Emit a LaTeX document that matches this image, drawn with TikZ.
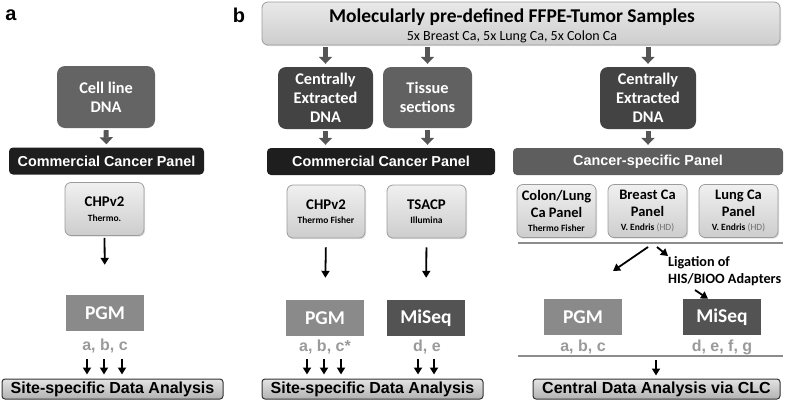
\documentclass[tikz,border=0pt]{standalone}
\usepackage{fontspec}
\setmainfont{Carlito}
\newfontfamily\arialf{Liberation Sans}
\usetikzlibrary{arrows.meta,shadows,calc}
\definecolor{dkbox}{HTML}{434343}
\definecolor{mdbox}{HTML}{616161}
\definecolor{cellbox}{HTML}{646464}
\definecolor{blackbar}{HTML}{1E1E1E}
\definecolor{specbar}{HTML}{5E5E5E}
\definecolor{pgmcol}{HTML}{8A8A8A}
\definecolor{miseqcol}{HTML}{535353}
\definecolor{lblgray}{HTML}{9A9A9A}
\definecolor{boxtop}{HTML}{F0F0F0}
\definecolor{boxbot}{HTML}{CDCDCD}
\definecolor{boxedge}{HTML}{9C9C9C}
\definecolor{arrgray}{HTML}{555555}
\definecolor{sepline}{HTML}{8C8C8C}
\definecolor{hdgray}{HTML}{707070}
\newcommand{\fsz}[2]{\fontsize{#1}{#2}\selectfont}
\begin{document}
\begin{tikzpicture}[x=1pt,y=-1pt,
  darkbox/.style={rounded corners=8pt, fill=#1, text=white, inner sep=0pt, align=center,
    font=\bfseries\fsz{16.3}{19}},
  lightbox/.style={rounded corners=6pt, top color=boxtop, bottom color=boxbot, draw=boxedge,
    line width=0.8pt, drop shadow={shadow xshift=1pt, shadow yshift=-1.2pt, opacity=0.25},
    inner sep=0pt, align=center, minimum width=79pt, minimum height=53pt, font=\bfseries\fsz{14.8}{16.5}},
  panelbar/.style={rounded corners=4pt, fill=#1, text=white, inner sep=0pt,
    font=\arialf\bfseries\fsz{14.4}{16}, minimum height=27pt},
  analysisbar/.style={rounded corners=3pt, top color=gray!22, bottom color=gray!60, draw=black!80,
    line width=1pt, inner sep=0pt, minimum height=20pt, font=\arialf\bfseries\fsz{16}{18}},
  seqbox/.style={fill=#1, text=white, inner sep=0pt, minimum width=78pt, minimum height=36pt,
    font=\bfseries\fsz{19.5}{22}},
  readlbl/.style={text=lblgray, inner sep=0pt, font=\arialf\bfseries\fsz{16}{18}},
  blockarr/.style={draw=arrgray, line width=5pt, -{Triangle[length=7pt,width=13pt]},
    shorten <=2pt, shorten >=3pt},
  thinarr/.style={draw=black, line width=1.8pt, -{Triangle[length=7pt,width=8pt]}},
  sep/.style={draw=sepline, line width=1.5pt},
  panellbl/.style={inner sep=0pt, font=\arialf\bfseries\fsz{20}{22}}
]
\useasboundingbox (0,0) rectangle (787,400);

% panel labels
\node[panellbl] (la) at (11,15) {a};
\node[panellbl] (lb) at (239,15) {b};

% ---------------- panel a ----------------
\node[darkbox=cellbox, minimum width=98pt, minimum height=62pt] (cellDNA) at (106,97) {Cell line\\DNA};
\node[panelbar=blackbar, minimum width=195pt] (comA) at (106.5,161) {Commercial Cancer Panel};
\node[lightbox] (chpA) at (104.5,209) {CHPv2\\[-2pt]{\fsz{9.5}{11}Thermo.}};
\node[seqbox=pgmcol] (pgmA) at (105,313) {PGM};
\node[readlbl] (lblA) at (105,346) {a, b, c};
\node[analysisbar, minimum width=221pt] (siteA) at (112.5,389) {Site-specific Data Analysis};

\draw[blockarr] (cellDNA.south) -- (comA.north);
\draw[thinarr, shorten <=2pt, shorten >=30pt] (chpA.south) -- (pgmA.north);
\coordinate (a1) at (87,359);
\coordinate (a2) at (104,359);
\coordinate (a3) at (122,359);
\foreach \c in {a1,a2,a3}
  \draw[thinarr, shorten >=4pt] (\c) -- (\c |- siteA.north);

% ---------------- panel b ----------------
\node[rounded corners=6pt, top color=boxtop!80!boxbot, bottom color=boxbot, draw=boxedge, line width=0.8pt,
  drop shadow={shadow xshift=1pt, shadow yshift=-1.2pt, opacity=0.25},
  minimum width=518pt, minimum height=43pt, inner sep=0pt] (top) at (521,23.5) {};
\node[inner sep=0pt, font=\bfseries\fsz{19.5}{22}] (title) at (512,17) {Molecularly pre-defined FFPE-Tumor Samples};
\node[inner sep=0pt, font=\fsz{14}{16}] (subtitle) at (512,37) {5x Breast Ca, 5x Lung Ca, 5x Colon Ca};

\node[darkbox=dkbox, minimum width=95pt, minimum height=62pt] (dna1) at (325.5,98) {Centrally\\Extracted\\DNA};
\node[darkbox=mdbox, minimum width=89pt, minimum height=61pt] (tissue) at (427.5,97.5) {Tissue\\sections};
\node[panelbar=blackbar, minimum width=228pt] (comB) at (381,161.5) {Commercial Cancer Panel};
\node[lightbox, minimum width=78pt] (chpB) at (326,211.5) {CHPv2\\[-2pt]{\fsz{9.5}{11}Thermo Fisher}};
\node[lightbox] (tsacp) at (426.5,211.5) {TSACP\\[-2pt]{\fsz{9.5}{11}Illumina}};
\node[seqbox=pgmcol] (pgmB) at (325,318) {PGM};
\node[seqbox=miseqcol] (miseqB) at (426,318) {MiSeq};
\node[readlbl] (lblB1) at (325,347) {a, b, c*};
\node[readlbl] (lblB2) at (427,347) {d, e};
\node[analysisbar, minimum width=221pt] (siteB) at (372.5,389) {Site-specific Data Analysis};

\draw[blockarr] (top.south -| dna1) -- (dna1.north);
\draw[blockarr] (top.south -| tissue) -- (tissue.north);
\draw[blockarr] (dna1.south) -- (dna1.south |- comB.north);
\draw[blockarr] (tissue.south) -- (tissue.south |- comB.north);
\draw[thinarr, shorten <=9pt, shorten >=22pt] (chpB.south) -- (pgmB.north);
\draw[thinarr, shorten <=9pt, shorten >=22pt] (tsacp.south) -- (miseqB.north);
\coordinate (b1) at (307,359);
\coordinate (b2) at (324,359);
\coordinate (b3) at (341,359);
\coordinate (b4) at (418,359);
\coordinate (b5) at (434,359);
\foreach \c in {b1,b2,b3,b4,b5}
  \draw[thinarr, shorten >=4pt] (\c) -- (\c |- siteB.north);

% right part
\node[darkbox=dkbox, minimum width=96pt, minimum height=62pt] (dna3) at (648,98) {Centrally\\Extracted\\DNA};
\node[panelbar=specbar, minimum width=270pt] (cspec) at (648,161.5) {Cancer-specific Panel};
\node[lightbox, font=\bfseries\fsz{14.5}{16.5}] (colon) at (556.5,211) {Colon/Lung\\Ca Panel\\[-2pt]{\fsz{9.5}{11}Thermo Fisher}};
\node[lightbox, font=\bfseries\fsz{14.5}{16.5}] (breast) at (647.5,211) {Breast Ca\\Panel\\[-2pt]{\fsz{9.5}{11}V. Endris {\mdseries\color{hdgray}(HD)}}};
\node[lightbox, font=\bfseries\fsz{14.5}{16.5}] (lung) at (738.5,211) {Lung Ca\\Panel\\[-2pt]{\fsz{9.5}{11}V. Endris {\mdseries\color{hdgray}(HD)}}};
\coordinate (s1l) at (518,243);
\coordinate (s1r) at (783,243);
\draw[sep] (s1l) -- (s1r);

\node[seqbox=pgmcol] (pgmC) at (583,317) {PGM};
\node[seqbox=miseqcol] (miseqC) at (722,317) {MiSeq};
\node[readlbl] (lblC1) at (583,347) {a, b, c};
\node[readlbl] (lblC2) at (722,347) {d, e, f, g};
\coordinate (s2l) at (518,356);
\coordinate (s2r) at (783,356);
\draw[sep] (s2l) -- (s2r);
\node[analysisbar, minimum width=247pt] (central) at (656.5,389) {Central Data Analysis via CLC};

\node[anchor=west, align=left, inner sep=0pt, font=\bfseries\fsz{14.2}{17}] (lig) at (668,271.5) {Ligation of\\HIS/BIOO Adapters};

\draw[blockarr] (top.south -| dna3) -- (dna3.north);
\draw[blockarr] (dna3.south) -- (cspec.north);
\coordinate (sp1) at (648,247);
\coordinate (sp2) at (657,247);
\coordinate (pgmIn) at (613,271);
\coordinate (ligIn) at (668,256);
\coordinate (ligOut) at (695,290);
\draw[thinarr] (sp1) -- (pgmIn);
\draw[thinarr] (sp2) -- (ligIn);
\draw[thinarr] (ligOut) -- (miseqC.north -| 708,0);
\coordinate (c1) at (656,360);
\draw[thinarr, shorten >=3pt] (c1) -- (c1 |- central.north);
\end{tikzpicture}
\end{document}
